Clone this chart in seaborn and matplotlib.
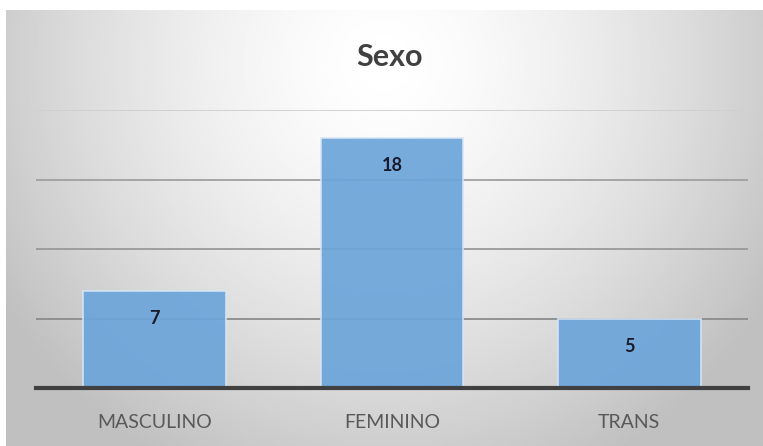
import numpy as np
import pandas as pd
import matplotlib
matplotlib.use("Agg")
import matplotlib.pyplot as plt
import seaborn as sns

categories = ["MASCULINO", "FEMININO", "TRANS"]
values = [7, 18, 5]
title = "Sexo"

sns.set_theme(style="white")
plt.rcParams['font.family'] = ['Lato', 'DejaVu Sans']

W, H = 763, 446
fig = plt.figure(figsize=(W / 100, H / 100), dpi=100)
fig.patch.set_facecolor("white")

# gradient background
bg = fig.add_axes([6 / W, 0, (W - 6) / W, (H - 10) / H])
ny, nx = 200, 400
yy, xx = np.mgrid[0:1:ny * 1j, 0:1:nx * 1j]
r = np.sqrt(((xx - 0.5) / 0.6) ** 2 + ((yy - 0.12) / 1.05) ** 2)
r = np.clip(r, 0, 1)
val = 1.0 - 0.25 * r ** 1.5
bg.imshow(val, cmap="gray", vmin=0, vmax=1, aspect="auto", extent=[0, 1, 1, 0])
bg.set_axis_off()

df = pd.DataFrame({"cat": categories, "val": values})
ax = fig.add_axes([36 / W, (H - 388) / H, (748 - 36) / W, (388 - 110) / H])
ax.patch.set_alpha(0)
sns.barplot(data=df, x="cat", y="val", color="#6ca5da", width=0.6,
            saturation=1, edgecolor="#d6e6f5", linewidth=1.2, alpha=0.93, ax=ax)
ax.set_xlim(-0.5, 2.5)
ax.set_ylim(0, 20)
ax.set_yticks([5, 10, 15, 20])
ax.set_axisbelow(True)
ax.yaxis.grid(True, color="#8c8c8c", linewidth=1.3)
glines = ax.get_ygridlines()
glines[-1].set_color("#cfcfcf")
glines[-2].set_color("#a0a0a0")
glines[-3].set_color("#999999")
for s in ["top", "right", "left"]:
    ax.spines[s].set_visible(False)
ax.spines["bottom"].set_color("#404040")
ax.spines["bottom"].set_linewidth(3)
ax.tick_params(axis="y", left=False, labelleft=False)
ax.tick_params(axis="x", bottom=False, labelsize=14, labelcolor="#595959", pad=13)
ax.set_xlabel("")
ax.set_ylabel("")

for i, v in enumerate(values):
    ax.text(i, v - 2.0, str(v), ha="center", va="center", fontsize=13,
            fontweight="bold", color="#1a1a2a")

fig.text(0.511, (H - 57) / H, title, ha="center", va="center", fontsize=22,
         fontweight="bold", color="#404040")

fig.savefig("out.png", dpi=100)
